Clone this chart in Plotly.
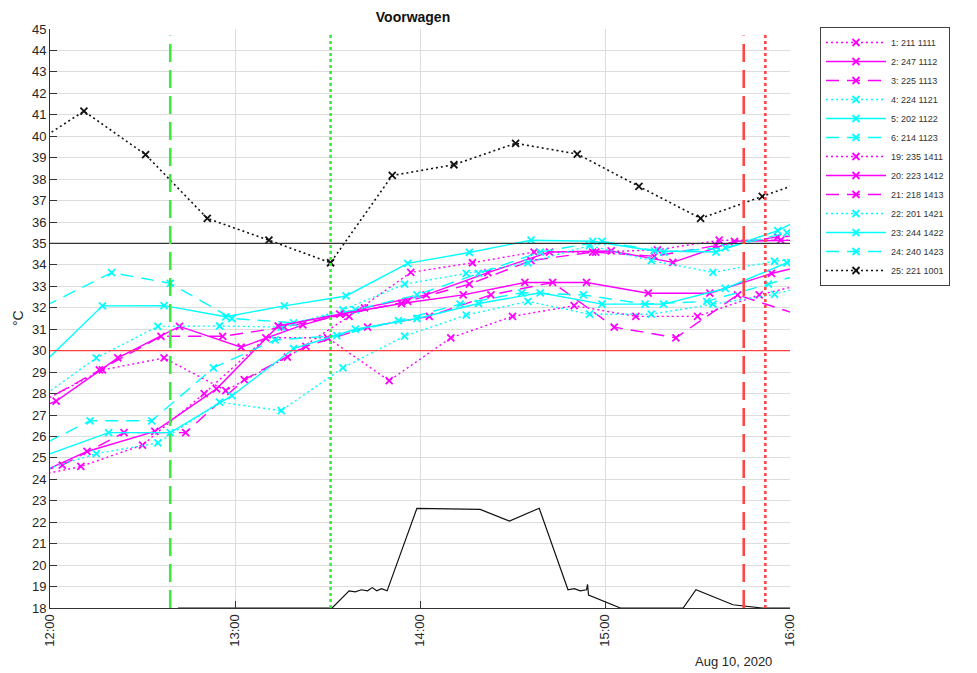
import plotly.graph_objects as go

DAY = "2020-08-10 "

# ---------------- data (times HH:MM, values in deg C) ----------------
t_1 = ["11:57", "12:17", "12:37", "12:57", "13:17", "13:37", "13:57", "14:17", "14:37", "14:57", "15:17", "15:37", "15:57", "16:17"]
v_1 = [27.6, 29.1, 29.66, 28.14, 29.7, 31.6, 33.65, 34.1, 34.6, 34.6, 34.7, 35.15, 35.15, 35.2]

t_2 = ["11:42", "12:02", "12:22", "12:42", "13:02", "13:22", "13:42", "14:02", "14:22", "14:42", "15:02", "15:22", "15:42", "16:02"]
v_2 = [26.5, 27.65, 29.66, 31.13, 30.16, 31.2, 32.0, 32.6, 33.64, 34.6, 34.65, 34.12, 35.1, 35.15]

t_3 = ["11:56", "12:16", "12:36", "12:56", "13:16", "13:36", "13:56", "14:16", "14:36", "14:56", "15:16", "15:36", "15:56", "16:16"]
v_3 = [27.5, 29.1, 30.67, 30.67, 31.1, 31.7, 32.3, 33.1, 34.2, 34.6, 34.4, 34.9, 35.3, 35.5]

t_4 = ["11:55", "12:15", "12:35", "12:55", "13:15", "13:35", "13:55", "14:15", "14:35", "14:55", "15:15", "15:35", "15:55", "16:15"]
v_4 = [27.6, 29.66, 31.13, 31.15, 31.1, 31.9, 33.1, 33.6, 34.1, 34.9, 34.2, 33.65, 34.17, 34.5]

t_5 = ["11:57", "12:17", "12:37", "12:57", "13:16", "13:36", "13:56", "14:16", "14:36", "14:56", "15:16", "15:36", "15:56", "16:16"]
v_5 = [29.3, 32.09, 32.1, 31.58, 32.09, 32.55, 34.07, 34.58, 35.15, 35.1, 34.65, 34.6, 35.6, 37.0]

t_6 = ["11:40", "12:20", "12:39", "12:59", "13:19", "13:39", "13:59", "14:19", "14:39", "14:59", "15:19", "15:39", "15:59", "16:19"]
v_6 = [30.76, 33.64, 33.14, 31.5, 31.3, 31.9, 32.6, 33.6, 34.6, 35.1, 34.6, 34.8, 35.5, 36.0]

t_19 = ["11:50", "12:10", "12:30", "12:50", "13:10", "13:30", "13:50", "14:10", "14:30", "14:50", "15:10", "15:30", "15:50", "16:10"]
v_19 = [24.0, 24.6, 25.6, 28.0, 30.6, 30.6, 28.6, 30.6, 31.6, 32.1, 31.6, 31.6, 32.6, 33.3]

t_20 = ["11:52", "12:12", "12:34", "12:54", "13:14", "13:34", "13:54", "14:14", "14:34", "14:54", "15:14", "15:34", "15:54", "16:14"]
v_20 = [24.0, 25.3, 26.24, 28.22, 31.15, 31.7, 32.2, 32.6, 33.18, 33.18, 32.68, 32.68, 33.6, 34.3]

t_21 = ["11:44", "12:04", "12:24", "12:44", "13:03", "13:23", "13:43", "14:03", "14:23", "14:43", "15:03", "15:23", "15:43", "16:03"]
v_21 = [23.8, 24.66, 26.18, 26.18, 28.65, 30.2, 31.1, 31.6, 32.6, 33.18, 31.1, 30.6, 32.6, 31.66]

t_22 = ["11:55", "12:15", "12:35", "12:55", "13:15", "13:35", "13:55", "14:15", "14:35", "14:55", "15:15", "15:35", "15:55", "16:15"]
v_22 = [24.3, 25.2, 25.7, 27.6, 27.2, 29.2, 30.68, 31.66, 32.3, 31.7, 31.7, 32.17, 32.63, 33.4]

t_23 = ["11:39", "12:19", "12:39", "12:59", "13:19", "13:39", "13:59", "14:19", "14:39", "14:59", "15:19", "15:39", "15:59", "16:19"]
v_23 = [24.1, 26.18, 26.18, 27.9, 30.1, 31.0, 31.5, 32.2, 32.7, 32.17, 32.17, 32.9, 34.1, 35.0]

t_24 = ["11:53", "12:13", "12:33", "12:53", "13:13", "13:33", "13:53", "14:13", "14:33", "14:53", "15:13", "15:33", "15:53", "16:13"]
v_24 = [25.3, 26.73, 26.73, 29.2, 30.5, 30.7, 31.4, 32.17, 32.7, 32.6, 32.17, 32.3, 33.1, 34.0]

t_25 = ["11:51", "12:11", "12:31", "12:51", "13:11", "13:31", "13:51", "14:11", "14:31", "14:51", "15:11", "15:31", "15:51", "16:11"]
v_25 = [39.3, 41.17, 39.14, 36.17, 35.15, 34.1, 38.17, 38.67, 39.67, 39.17, 37.66, 36.17, 37.19, 38.23]

# bottom black trace (no legend entry)
t_bottom = ["12:41:30", "13:31:30", "13:37:00", "13:39:00", "13:41:00", "13:43:00", "13:44:30", "13:46:00",
            "13:47:30", "13:49:20", "13:59:00", "14:19:30", "14:29:00", "14:38:40", "14:48:00", "14:50:00",
            "14:52:00", "14:54:00", "14:54:20", "14:54:40", "15:05:00", "15:25:20", "15:29:30", "15:41:30",
            "15:51:00", "16:00:00"]
v_bottom = [18.0, 18.0, 18.8, 18.75, 18.85, 18.8, 18.95, 18.8, 18.9, 18.8, 22.65, 22.6, 22.05, 22.65,
            18.85, 18.9, 18.8, 18.85, 19.1, 18.6, 18.0, 18.0, 18.85, 18.15, 18.0, 18.0]

# event markers (vertical lines) and threshold lines
event_times = ["12:39", "13:31", "15:45", "15:52"]
event_tops = [44.7, 44.85, 44.7, 44.85]
thresholds = [35, 30]

series_names = ["1: 211 1111", "2: 247 1112", "3: 225 1113", "4: 224 1121", "5: 202 1122", "6: 214 1123",
                "19: 235 1411", "20: 223 1412", "21: 218 1413", "22: 201 1421", "23: 244 1422",
                "24: 240 1423", "25: 221 1001"]
series_times = [t_1, t_2, t_3, t_4, t_5, t_6, t_19, t_20, t_21, t_22, t_23, t_24, t_25]
series_values = [v_1, v_2, v_3, v_4, v_5, v_6, v_19, v_20, v_21, v_22, v_23, v_24, v_25]

# ---------------- styles ----------------
MAG, CYA, BLK = "#ff00ff", "#00ffff", "#111111"
DOT, SOLID, DASH = "2px,3px", "solid", "13px,8px"
series_colors = [MAG, MAG, MAG, CYA, CYA, CYA, MAG, MAG, MAG, CYA, CYA, CYA, BLK]
series_dash = [DOT, SOLID, DASH, DOT, SOLID, DASH, DOT, SOLID, DASH, DOT, SOLID, DASH, DOT]
event_colors = ["#3ee83e", "#3ee83e", "#ff4646", "#ff4646"]
event_dash = ["18px,8px", "3px,3px", "18px,8px", "3px,3px"]
threshold_colors = ["#333333", "#ff4040"]

FONT = "Liberation Sans, Arial, sans-serif"


def ts(t):
    return DAY + t


fig = go.Figure()

fig.add_trace(go.Scatter(
    x=[ts(t) for t in t_bottom], y=v_bottom, mode="lines",
    line=dict(color="#111111", width=1.2), showlegend=False, hoverinfo="skip"))

for name, tt, vv, col, dsh in zip(series_names, series_times, series_values, series_colors, series_dash):
    fig.add_trace(go.Scatter(
        x=[ts(t) for t in tt], y=vv, name=name, mode="lines+markers",
        line=dict(color=col, width=1.4 if col != BLK else 1.6, dash=dsh),
        marker=dict(symbol="x-thin", size=7, line=dict(color=col, width=1.8), color=col),
    ))

for y0, col in zip(thresholds, threshold_colors):
    fig.add_shape(type="line", xref="paper", yref="y", x0=0, x1=1, y0=y0, y1=y0,
                  line=dict(color=col, width=1.2), layer="above")

for t, top, col, dsh in zip(event_times, event_tops, event_colors, event_dash):
    fig.add_shape(type="line", xref="x", yref="y", x0=ts(t), x1=ts(t), y0=18, y1=top,
                  line=dict(color=col, width=2.6, dash=dsh), layer="above")

# page body has an 8px margin: lay out in figure coordinates shifted by that offset
OFF = 8
W, H = 977 - OFF, 673 - OFF
L, R, T, B = 50 - OFF, 790 - OFF, 29 - OFF, 608 - OFF


def px_x(x):
    return (x - OFF - L) / (R - L)


def px_y(y):
    return (B - (y - OFF)) / (B - T)


fig.update_layout(
    width=W, height=H,
    margin=dict(l=L, r=W - R, t=T, b=H - B, pad=0),
    paper_bgcolor="white", plot_bgcolor="white",
    font=dict(family=FONT, size=13, color="#262626"),
    title=dict(text="<b>Voorwagen</b>", x=(413 - OFF) / W, xanchor="center",
               y=1 - (17 - OFF) / H, yanchor="middle", font=dict(size=14, color="#111111")),
    showlegend=True,
    legend=dict(x=px_x(820), y=px_y(27), xanchor="left", yanchor="top",
                bordercolor="#404040", borderwidth=1, bgcolor="white",
                font=dict(size=9, color="#333333", family=FONT), itemwidth=60,
                tracegroupgap=0),
    xaxis=dict(type="date", range=[ts("12:00"), ts("16:00")], dtick=3600000, tick0=ts("12:00"),
               tickformat="%H:%M", tickangle=-90, ticks="inside", ticklen=7, tickcolor="#333333",
               showline=True, linecolor="#333333", linewidth=1, showgrid=True, gridcolor="#dddddd",
               zeroline=False, tickfont=dict(size=13, color="#262626")),
    yaxis=dict(range=[18, 45], dtick=1, ticks="inside", ticklen=7, tickcolor="#333333",
               showline=True, linecolor="#333333", linewidth=1, showgrid=True, gridcolor="#dddddd",
               zeroline=False, tickfont=dict(size=13, color="#262626")),
    annotations=[
        dict(text="°C", xref="paper", yref="paper", x=px_x(18), y=px_y(318),
             textangle=-90, showarrow=False, font=dict(size=14, color="#262626"),
             xanchor="center", yanchor="middle"),
        dict(text="Aug 10, 2020", xref="paper", yref="paper", x=px_x(733), y=px_y(662),
             showarrow=False, font=dict(size=13, color="#262626"), xanchor="center", yanchor="middle"),
    ],
)

fig.write_html("out.html")
